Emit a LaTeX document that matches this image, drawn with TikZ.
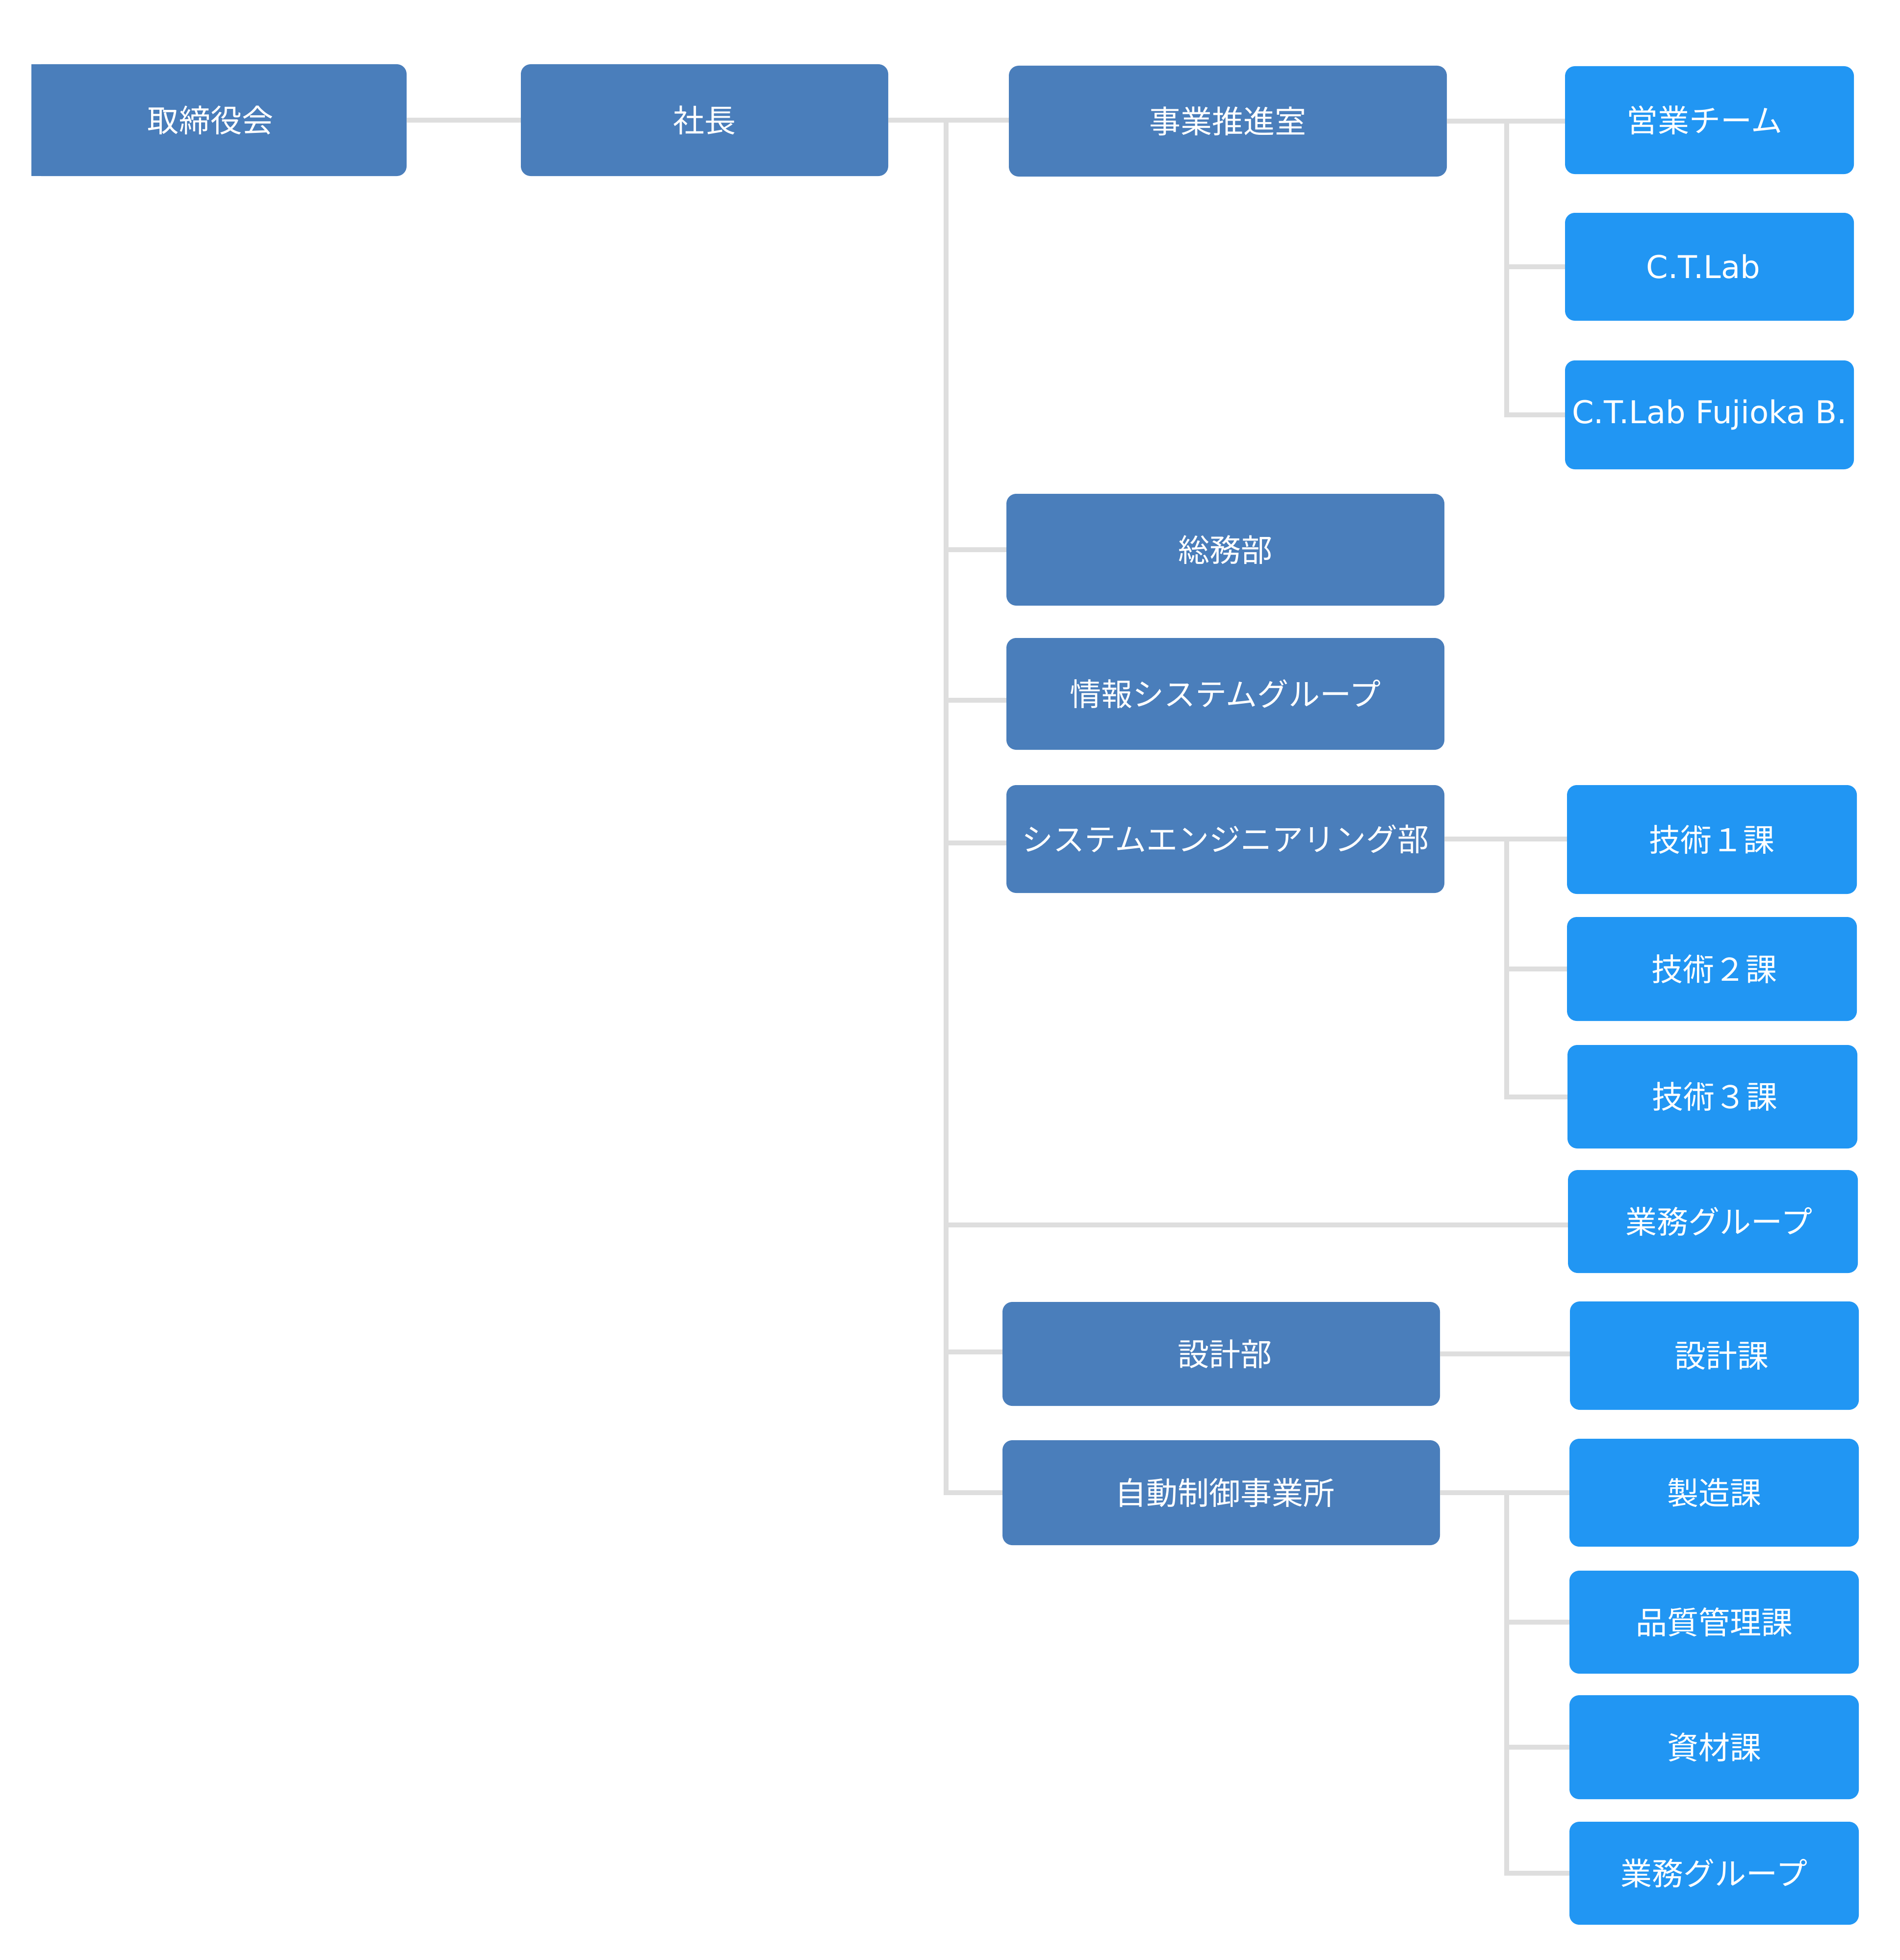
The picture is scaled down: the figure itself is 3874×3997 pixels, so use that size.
\documentclass[tikz,border=0pt]{standalone}
\usepackage{fontspec}
\setmainfont{DejaVu Sans}
\newfontfamily\jp{Noto Sans CJK JP}
\definecolor{dkblue}{HTML}{4A7EBB}
\definecolor{ltblue}{HTML}{2196F3}
\definecolor{linegray}{HTML}{DEDEDE}
\begin{document}
\begin{tikzpicture}[x=0.2pt,y=-0.2pt,
  box/.style={rectangle, rounded corners=4pt, inner sep=0pt, outer sep=0pt,
    text=white, font=\fontsize{12.8}{15}\selectfont\jp, align=center},
  sz/.style 2 args={minimum width=#1*0.2pt, minimum height=#2*0.2pt},
  dark/.style={box, fill=dkblue},
  light/.style={box, fill=ltblue},
  latin/.style={font=\fontsize{12.8}{15}\selectfont},
  conn/.style={draw=linegray, line width=2pt}]
\useasboundingbox (0,0) rectangle (3874,3997);
% level 0-1
\node[dark, sz={765}{228}] (board) at (446.5,245) {\hspace*{-7pt}取締役会};
\fill[dkblue] (board.north west) rectangle ([xshift=6pt]board.south west);
\node[dark, sz={749}{228}] (pres) at (1436.5,245) {社長};
% level 2
\node[dark, sz={893}{226}] (jigyo) at (2503.5,247) {事業推進室};
\node[dark, sz={893}{228}] (somu) at (2498.5,1121) {総務部};
\node[dark, sz={893}{228}] (joho) at (2498.5,1415) {情報システムグループ};
\node[dark, sz={893}{220}] (se) at (2498.5,1711) {システムエンジニアリング部};
\node[dark, sz={892}{212}] (sekkeibu) at (2490,2761) {\hspace*{3pt}設計部};
\node[dark, sz={892}{214}] (jido) at (2490,3044) {\hspace*{3pt}自動制御事業所};
% level 3
\node[light, sz={589}{220}] (eigyo) at (3485.5,245) {\hspace*{-4pt}営業チーム};
\node[light, latin, sz={589}{220}] (ctlab) at (3485.5,544) {\hspace*{-5pt}C.T.Lab};
\node[light, latin, sz={589}{222}] (fuji) at (3485.5,846) {C.T.Lab Fujioka B.};
\node[light, sz={591}{222}] (g1) at (3490.5,1712) {技術１課};
\node[light, sz={591}{212}] (g2) at (3490.5,1976) {\hspace*{2pt}技術２課};
\node[light, sz={591}{211}] (g3) at (3491.5,2236.5) {\hspace*{2pt}技術３課};
\node[light, sz={591}{210}] (gyomuA) at (3492.5,2491) {\hspace*{5pt}業務グループ};
\node[light, sz={589}{221}] (sekkeika) at (3495.5,2764.5) {\hspace*{6pt}設計課};
\node[light, sz={590}{220}] (seizo) at (3495,3044) {製造課};
\node[light, sz={590}{210}] (hinshitsu) at (3495,3308) {品質管理課};
\node[light, sz={590}{212}] (shizai) at (3495,3563) {資材課};
\node[light, sz={590}{210}] (gyomuB) at (3495,3820) {業務グループ};
% trunk coordinates
\coordinate (t1) at (1929,0);
\coordinate (t2) at (3072,0);
% connectors
\draw[conn] (board.east) -- (pres.west);
\draw[conn] (pres.east) -- (pres.east -| jigyo.west);
\draw[conn] (pres.east -| t1) |- (jido.west);
\draw[conn] (pres.east -| t1) |- (somu.west);
\draw[conn] (pres.east -| t1) |- ([yshift=-2.6pt]joho.west);
\draw[conn] (pres.east -| t1) |- ([yshift=-1.6pt]se.west);
\draw[conn] (pres.east -| t1) |- ([yshift=-1.4pt]gyomuA.west);
\draw[conn] (pres.east -| t1) |- ([yshift=0.8pt]sekkeibu.west);
\draw[conn] (jigyo.east) -- (jigyo.east -| eigyo.west);
\draw[conn] (jigyo.east -| t2) |- (fuji.west);
\draw[conn] (jigyo.east -| t2) |- (ctlab.west);
\draw[conn] (se.east) -- (se.east -| g1.west);
\draw[conn] (se.east -| t2) |- (g3.west);
\draw[conn] (se.east -| t2) |- (g2.west);
\draw[conn] (sekkeibu.east) -- (sekkeibu.east -| sekkeika.west);
\draw[conn] (jido.east) -- (jido.east -| seizo.west);
\draw[conn] (jido.east -| t2) |- (gyomuB.west);
\draw[conn] (jido.east -| t2) |- (shizai.west);
\draw[conn] (jido.east -| t2) |- (hinshitsu.west);
\end{tikzpicture}
\end{document}
